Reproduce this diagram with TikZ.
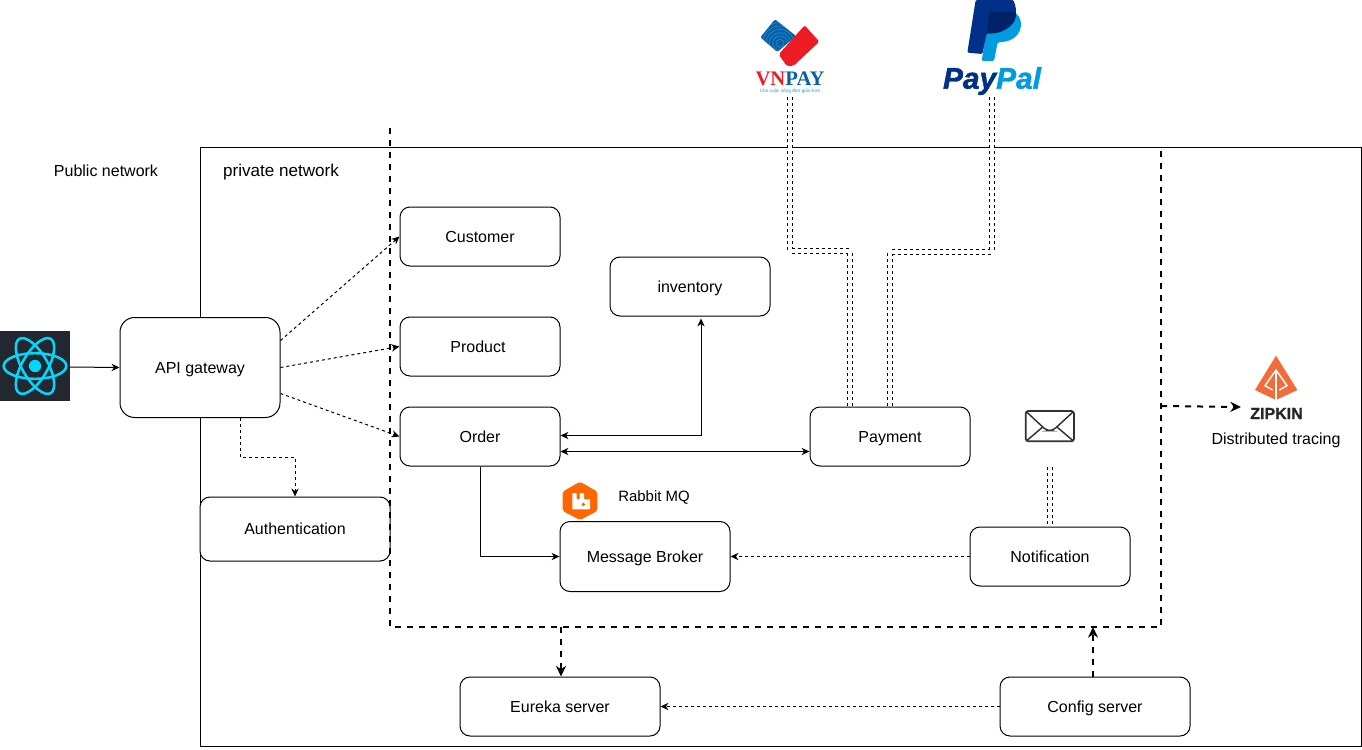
\documentclass[tikz,border=0pt]{standalone}
\usepackage{fontspec}
\setmainfont{Liberation Sans}
\newfontfamily\vnfont{Liberation Serif}
\usetikzlibrary{arrows.meta,calc}
\definecolor{reactbg}{HTML}{23272F}
\definecolor{reactc}{HTML}{00D8FF}
\definecolor{ppdark}{HTML}{003087}
\definecolor{pplight}{HTML}{009CDE}
\definecolor{ppmid}{HTML}{012169}
\definecolor{vnblue}{HTML}{0A5FA8}
\definecolor{vnred}{HTML}{ED1C24}
\definecolor{vnsky}{HTML}{1C9AD6}
\definecolor{zipk}{HTML}{F26B38}
\definecolor{rabbit}{HTML}{FF6600}
\definecolor{mailc}{HTML}{333333}
\tikzset{
  box/.style={draw=black,fill=white,line width=.75pt,rounded corners=7.5pt,inner sep=0pt,align=center,text height=8.6pt,text depth=0pt,font=\fontsize{12}{14}\selectfont},
  lbl/.style={inner sep=0pt,text height=8.6pt,text depth=0pt,font=\fontsize{12}{14}\selectfont},
  solidarrow/.style={line width=.75pt,-{Stealth[length=6pt,width=5.5pt]}},
  bothsolid/.style={line width=.75pt,{Stealth[length=6pt,width=5.5pt]}-{Stealth[length=6pt,width=5.5pt]}},
  thinarrow/.style={line width=.75pt,dash pattern=on 2.25pt off 2.25pt,-{Stealth[length=6pt,width=5.5pt]}},
  thickdash/.style={line width=1.5pt,dash pattern=on 4.5pt off 4.5pt},
  thickarrow/.style={thickdash,-{Stealth[length=8pt,width=7.5pt]}},
  linkline/.style={line width=.75pt,double distance=3pt,dash pattern=on 2.25pt off 2.25pt},
}
\begin{document}
\begin{tikzpicture}[x=.75pt,y=-.75pt]
\useasboundingbox (0,0) rectangle (1362,749);
% private network area
\node[draw=black,line width=.75pt,minimum width=870.75pt,minimum height=449.25pt,inner sep=0pt,anchor=north west] (private) at (199.7,146.7) {};
\node[lbl] (publicl) at (106,171) {Public network};
\node[lbl,text height=9.2pt,font=\fontsize{12.8}{14}\selectfont] (privatel) at (281,170.5) {private network};

% services
\node[box,rounded corners=11pt,minimum width=120pt,minimum height=75pt] (api) at (200,367.5) {API gateway};
\node[box,minimum width=120pt,minimum height=44.25pt] (customer) at (480,236.5) {Customer};
\node[box,minimum width=120pt,minimum height=44.25pt] (product) at (480,346.5) {Product\kern3pt};
\node[box,minimum width=120pt,minimum height=44.25pt] (order) at (480,436.5) {Order};
\node[box,minimum width=120pt,minimum height=44.25pt] (inventory) at (690,286.5) {inventory};
\node[box,minimum width=120pt,minimum height=44.25pt] (payment) at (890,436.5) {Payment};
\node[box,minimum width=142.5pt,minimum height=48pt] (auth) at (295,529) {Authentication};
\node[box,minimum width=127.5pt,minimum height=52.5pt] (broker) at (645,556.5) {Message Broker};
\node[box,minimum width=120pt,minimum height=44.25pt] (notif) at (1050,556.5) {Notification};
\node[box,minimum width=150pt,minimum height=44.25pt] (eureka) at (560,706.5) {Eureka server};
\node[box,minimum width=142.5pt,minimum height=44.25pt] (config) at (1095,706.5) {Config server};
\node[inner sep=0pt,font=\fontsize{11.2}{12}\selectfont] (rabbitl) at (654,497.5) {Rabbit MQ};
\node[lbl] (tracing) at (1276,438.5) {Distributed tracing};

% React logo
\fill[reactbg] (0,331) rectangle (70,401);
\coordinate (react) at (70,367);
\fill[reactc] (35,366) circle[radius=4.6pt];
\foreach \a in {0,60,120}
  \draw[reactc,line width=1.9pt] (35,366) ellipse[x radius=23.5pt,y radius=9.6pt,rotate=\a];

% VNPAY logo
\begin{scope}[shift={(730,0)},x=.25pt,y=-.25pt]
  \begin{scope}
    \clip[rounded corners=1pt] (135,58) -- (198,108) -- (142,156) -- (91,112) -- cycle;
    \fill[vnblue] (85,50) rectangle (200,160);
    \foreach \r in {12,22,32,42,52,62}
      \draw[vnsky,line width=.35pt] (150,130) circle[radius=\r*.25pt];
  \end{scope}
  \fill[vnred,rounded corners=1.5pt] (224,76) -- (268,125) -- (190,198) -- (170,198) -- (146,163) -- cycle;
  \node[inner sep=0pt,font=\vnfont\bfseries\fontsize{15.5}{15}\selectfont] (vnpay) at (180,238) {\textcolor{vnred}{VN}\textcolor{vnblue}{PAY}};
  \node[inner sep=0pt,text=vnsky,font=\fontsize{3.5}{4}\selectfont] (vntag) at (180,274) {Cho cuộc sống đơn giản hơn};
  % PayPal logo
  \fill[pplight,rounded corners=1pt] (778,35) -- (855,38) .. controls (885,60) and (880,125) .. (803,127) -- (792,183) -- (755,183) -- cycle;
  \fill[ppdark,rounded corners=1pt] (737,0) -- (712,158) -- (757,162) -- (770,100) .. controls (830,105) and (875,60) .. (850,0) -- cycle;
  \fill[ppmid] (778,35) -- (858,37) .. controls (862,70) and (830,100) .. (770,100) -- cycle;
  \node[inner sep=0pt,font=\bfseries\itshape\fontsize{22.4}{24}\selectfont] (paypal) at (786,243) {\addfontfeature{FakeBold=1.5}\textcolor{ppdark}{Pay}\textcolor{pplight}{Pal}};
\end{scope}
\coordinate (vnend) at (790,97);
\coordinate (ppend) at (992,97);

% Zipkin logo
\begin{scope}[shift={(1150,340)},x=.25pt,y=-.25pt]
  \fill[zipk] (378,47) -- (442,150) -- (378,180) -- (315,150) -- cycle;
  \draw[white,line width=1.1pt] (368,150) -- (345,137) -- (378,90) -- (411,137) -- (388,150);
  \draw[white,line width=1.1pt] (378,90) -- (378,180);
\end{scope}
\node[inner sep=0pt,text=black!85,font=\bfseries\fontsize{12}{14}\selectfont] (zipkin) at (1276.5,413.5) {\addfontfeature{FakeBold=1}ZIPKIN};
\coordinate (zipend) at (1241,407);

% Mail icon
\begin{scope}[shift={(1000,400)},x=.25pt,y=-.25pt]
  \draw[mailc,line width=1.3pt,rounded corners=2pt] (77,33) rectangle (222,124);
  \draw[mailc,line width=1.1pt,rounded corners=3pt] (80,36) -- (140,92) -- (158,92) -- (219,36);
  \draw[mailc,line width=1.1pt] (80,122) -- (127,82) (219,122) -- (172,82);
\end{scope}
\coordinate (mailend) at (1050,467);

% Rabbit MQ logo
\begin{scope}[shift={(540,400)},x=.25pt,y=-.25pt]
  \fill[rabbit,rounded corners=1.5pt] (120,245) -- (172,275) -- (172,333) -- (120,360) -- (68,333) -- (68,275) -- cycle;
  \fill[white,rounded corners=.5pt] (97,279) -- (110,279) -- (110,298) -- (119,298) -- (119,279) -- (132,279) -- (132,298) -- (150,298) -- (150,328) -- (97,328) -- cycle;
  \fill[rabbit] (130,313) circle[radius=1.4pt];
\end{scope}

% solid connectors
\draw[solidarrow] (react) -- (api.west);
\draw[solidarrow] (order.south) |- (broker.west);
\draw[bothsolid] ($(order.east)+(0,-1)$) -| ($(inventory.south)+(11,2)$);
\draw[bothsolid] ($(order.east)+(0,15)$) -- ($(payment.west)+(0,15)$);

% thin dashed connectors
\draw[thinarrow] ($(api.east)+(0,-27)$) -- (customer.west);
\draw[thinarrow] (api.east) -- (product.west);
\draw[thinarrow] ($(api.east)+(0,26)$) -- (order.west);
\draw[thinarrow] ($(api.south)+(40,0)$) -- ++(0,39) -| (auth.north);
\draw[thinarrow] (notif.west) -- (broker.east);
\draw[thinarrow] (config.west) -- (eureka.east);

% double dashed links
\draw[linkline] (vnend) -- (790,251) -- (850,251) -- ($(payment.north)+(-40,0)$);
\draw[linkline] (ppend) -- (992,252) -- (890,252) -- (payment.north);
\draw[linkline] (mailend) -- (notif.north);

% thick dashed frame and arrows
\coordinate (ftop) at (390,128);
\coordinate (fbl) at (390,627);
\coordinate (fbr) at (1161,627);
\coordinate (ftr) at (1161,147);
\draw[thickdash] (ftop) -- (fbl) -- (fbr) -- (ftr);
\draw[thickarrow] (561,627) -- (eureka.north -| 561,0);
\draw[thickarrow] (config.north -| 1093,0) -- (1093,627);
\draw[thickarrow] (1161,406) -- (zipend);
\end{tikzpicture}
\end{document}
